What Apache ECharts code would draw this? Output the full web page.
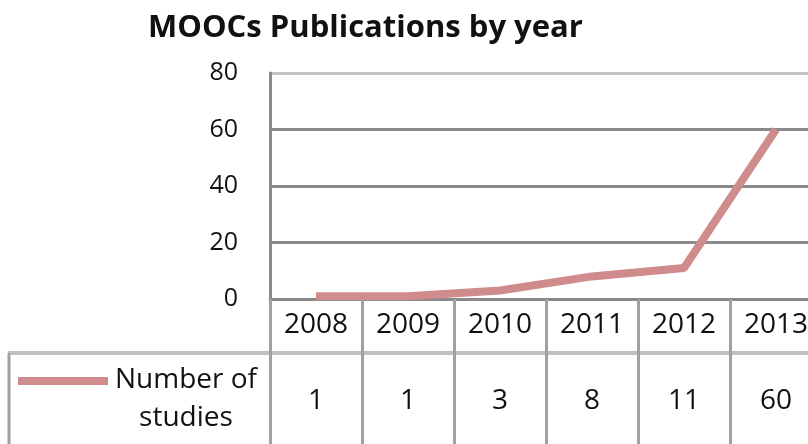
<!DOCTYPE html>
<html>
<head>
<meta charset="utf-8">
<script src="https://cdn.jsdelivr.net/npm/echarts@6/dist/echarts.min.js"></script>
<style>
  html, body { margin: 0; padding: 0; background: #fff; overflow: hidden; }
  /* the reference is cropped on the right, so the chart runs past the window */
  #chart { width: 830px; height: 444px; }
</style>
</head>
<body>
<div id="chart"></div>
<script>
// data
const years = ['2008', '2009', '2010', '2011', '2012', '2013']
const studies = [1, 1, 3, 8, 11, 60]
const yTicks = [0, 20, 40, 60, 80]

const font = '"Open Sans", sans-serif'
const lineColor = '#d08b8d'

const chart = echarts.init(document.getElementById('chart'))

chart.setOption({
  animation: false,
  title: {
    text: 'MOOCs Publications by year',
    left: 143,
    top: 8,
    textStyle: { fontFamily: font, fontWeight: 'bold', fontSize: 31, color: '#111' }
  },
  grid: { left: 270, top: 73, width: 552, height: 226 },
  xAxis: [
    {
      type: 'category',
      data: years,
      boundaryGap: true,
      axisLine: { lineStyle: { color: '#8a8a8a', width: 3 } },
      // long ticks double as the table's column borders
      axisTick: { show: true, interval: 0, length: 150, lineStyle: { color: '#a0a0a0', width: 3 } },
      axisLabel: { interval: 0, margin: 12, fontFamily: font, fontSize: 28, color: '#111' },
      splitLine: { show: false }
    },
    {
      type: 'category',
      data: years,
      position: 'bottom',
      offset: 80,
      axisLine: { show: false },
      axisTick: { show: false },
      axisLabel: {
        interval: 0,
        fontFamily: font,
        fontSize: 28,
        color: '#111',
        formatter: (v, i) => String(studies[i])
      }
    }
  ],
  yAxis: {
    type: 'value',
    min: yTicks[0],
    max: yTicks[yTicks.length - 1],
    interval: 20,
    axisLine: { show: true, lineStyle: { color: '#8a8a8a', width: 3 } },
    axisTick: { show: false },
    axisLabel: { margin: 32, fontFamily: font, fontSize: 25, color: '#111' },
    splitLine: {
      lineStyle: {
        color: ['#8a8a8a', '#8a8a8a', '#8a8a8a', '#8a8a8a', '#c4c4c4'],
        width: 3
      }
    }
  },
  series: [
    {
      name: 'Number of studies',
      type: 'line',
      data: studies,
      symbol: 'none',
      lineStyle: { color: lineColor, width: 8 },
      itemStyle: { color: lineColor }
    }
  ],
  graphic: [
    // table border lines
    { type: 'line', shape: { x1: 8, y1: 353, x2: 830, y2: 353 }, style: { stroke: '#c0c0c0', lineWidth: 4 } },
    { type: 'line', shape: { x1: 9, y1: 353, x2: 9, y2: 444 }, style: { stroke: '#a0a0a0', lineWidth: 3 } },
    // legend key
    { type: 'line', shape: { x1: 18, y1: 381, x2: 108, y2: 381 }, style: { stroke: lineColor, lineWidth: 8 } },
    {
      type: 'text',
      x: 186,
      y: 380,
      style: { text: 'Number of', fontFamily: font, fontSize: 28, fill: '#111', align: 'center', verticalAlign: 'middle' }
    },
    {
      type: 'text',
      x: 186,
      y: 418,
      style: { text: 'studies', fontFamily: font, fontSize: 28, fill: '#111', align: 'center', verticalAlign: 'middle' }
    }
  ]
})
</script>
</body>
</html>
